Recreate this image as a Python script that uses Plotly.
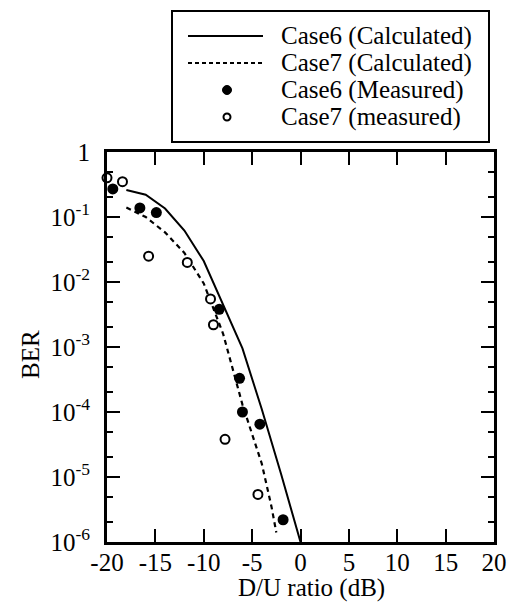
import plotly.graph_objects as go

# D/U ratio (dB) and BER for the calculated curves
calc6_du = [-18, -16, -14, -12, -10, -8, -6, -4, -2, 0]
calc6_ber = [0.26, 0.22, 0.135, 0.062, 0.021, 4.5e-3, 9.5e-4, 1.1e-4, 1.1e-5, 1.0e-6]

calc7_du = [-18, -16, -14, -12, -10, -8, -6, -4, -3, -2.5]
calc7_ber = [0.14, 0.10, 0.058, 0.028, 9.5e-3, 1.6e-3, 1.3e-4, 1.6e-5, 3.5e-6, 1.4e-6]

# Measured points
meas6_du = [-19.4, -16.6, -14.9, -8.4, -6.3, -6.0, -4.2, -1.8]
meas6_ber = [0.27, 0.138, 0.117, 3.8e-3, 3.3e-4, 1.0e-4, 6.5e-5, 2.2e-6]

meas7_du = [-20.0, -18.4, -15.7, -11.7, -9.3, -9.0, -7.8, -4.4]
meas7_ber = [0.40, 0.35, 0.025, 0.020, 5.5e-3, 2.2e-3, 3.8e-5, 5.4e-6]

series_names = ["Case6 (Calculated)", "Case7 (Calculated)",
                "Case6 (Measured)", "Case7 (measured)"]

x_ticks = [-20, -15, -10, -5, 0, 5, 10, 15, 20]
x_ticktext = ["-20", "-15", "-10", "-5", "0", "5", "10", "15", "20"]
y_ticks = [1e-6, 1e-5, 1e-4, 1e-3, 1e-2, 1e-1, 1]
y_ticktext = ["10<sup>-6</sup>", "10<sup>-5</sup>", "10<sup>-4</sup>",
              "10<sup>-3</sup>", "10<sup>-2</sup>", "10<sup>-1</sup>", "1"]

FONT = "Liberation Serif, Times New Roman, serif"
FS = 25
W, H = 510, 603
L, R, T, B = 107, 16, 152, 61
PW, PH = W - L - R, H - T - B


def px_x(px):
    return (px - L) / PW


def px_y(py):
    return (H - B - py) / PH


fig = go.Figure()
fig.add_trace(go.Scatter(x=calc6_du, y=calc6_ber, mode="lines", name=series_names[0],
                         line=dict(color="black", width=2)))
fig.add_trace(go.Scatter(x=calc7_du, y=calc7_ber, mode="lines", name=series_names[1],
                         line=dict(color="black", width=2.2, dash="5px,4px")))
fig.add_trace(go.Scatter(x=meas6_du, y=meas6_ber, mode="markers", name=series_names[2],
                         cliponaxis=False,
                         marker=dict(color="black", size=11, symbol="circle")))
fig.add_trace(go.Scatter(x=meas7_du, y=meas7_ber, mode="markers", name=series_names[3],
                         cliponaxis=False,
                         marker=dict(color="white", size=9, symbol="circle",
                                     line=dict(color="black", width=2))))

# Boxed legend above the plot
shapes = [dict(type="rect", xref="paper", yref="paper",
               x0=px_x(172), x1=px_x(489), y0=px_y(142), y1=px_y(11),
               line=dict(color="black", width=2), fillcolor="white")]
row_y = [36, 63, 90, 117]
shapes.append(dict(type="line", xref="paper", yref="paper",
                   x0=px_x(188), x1=px_x(263), y0=px_y(row_y[0]), y1=px_y(row_y[0]),
                   line=dict(color="black", width=2)))
shapes.append(dict(type="line", xref="paper", yref="paper",
                   x0=px_x(188), x1=px_x(263), y0=px_y(row_y[1]), y1=px_y(row_y[1]),
                   line=dict(color="black", width=2, dash="4px,3px")))
shapes.append(dict(type="circle", xref="paper", yref="paper",
                   xsizemode="pixel", ysizemode="pixel",
                   xanchor=px_x(227), yanchor=px_y(row_y[2]),
                   x0=-4.5, x1=4.5, y0=-4.5, y1=4.5,
                   fillcolor="black", line=dict(color="black", width=1)))
shapes.append(dict(type="circle", xref="paper", yref="paper",
                   xsizemode="pixel", ysizemode="pixel",
                   xanchor=px_x(227), yanchor=px_y(row_y[3]),
                   x0=-3.5, x1=3.5, y0=-3.5, y1=3.5,
                   fillcolor="white", line=dict(color="black", width=2)))

annotations = []
for name, ry in zip(series_names, row_y):
    annotations.append(dict(text=name, xref="paper", yref="paper",
                            x=px_x(279), y=px_y(ry), xanchor="left", yanchor="middle",
                            showarrow=False, font=dict(family=FONT, size=FS, color="black")))

# Axis titles
annotations.append(dict(text="D/U ratio (dB)", xref="paper", yref="paper",
                        x=px_x(311), y=px_y(588), xanchor="center", yanchor="middle",
                        showarrow=False, font=dict(family=FONT, size=FS, color="black")))
annotations.append(dict(text="BER", xref="paper", yref="paper", textangle=-90,
                        x=px_x(30), y=px_y(355), xanchor="center", yanchor="middle",
                        showarrow=False, font=dict(family=FONT, size=FS, color="black")))

fig.update_layout(
    width=W, height=H,
    margin=dict(l=L, r=R, t=T, b=B, autoexpand=False),
    paper_bgcolor="white", plot_bgcolor="white",
    showlegend=False,
    font=dict(family=FONT, size=FS, color="black"),
    shapes=shapes,
    annotations=annotations,
)

fig.update_xaxes(
    type="linear", range=[-20, 20], tickvals=x_ticks, ticktext=x_ticktext,
    ticks="inside", ticklen=13, tickwidth=2, tickcolor="black",
    ticklabelstandoff=-4, automargin=False,
    showline=True, linecolor="black", linewidth=3, mirror="ticks",
    showgrid=False, zeroline=False,
)
fig.update_yaxes(
    type="log", range=[-6, 0], tickvals=y_ticks, ticktext=y_ticktext,
    ticks="inside", ticklen=13, tickwidth=2, tickcolor="black",
    ticklabelstandoff=9, automargin=False,
    minor=dict(ticks="inside", ticklen=6, tickwidth=1.5, tickcolor="black", showgrid=False),
    showline=True, linecolor="black", linewidth=3, mirror="ticks",
    showgrid=False, zeroline=False,
)

fig.write_html("out.html")
